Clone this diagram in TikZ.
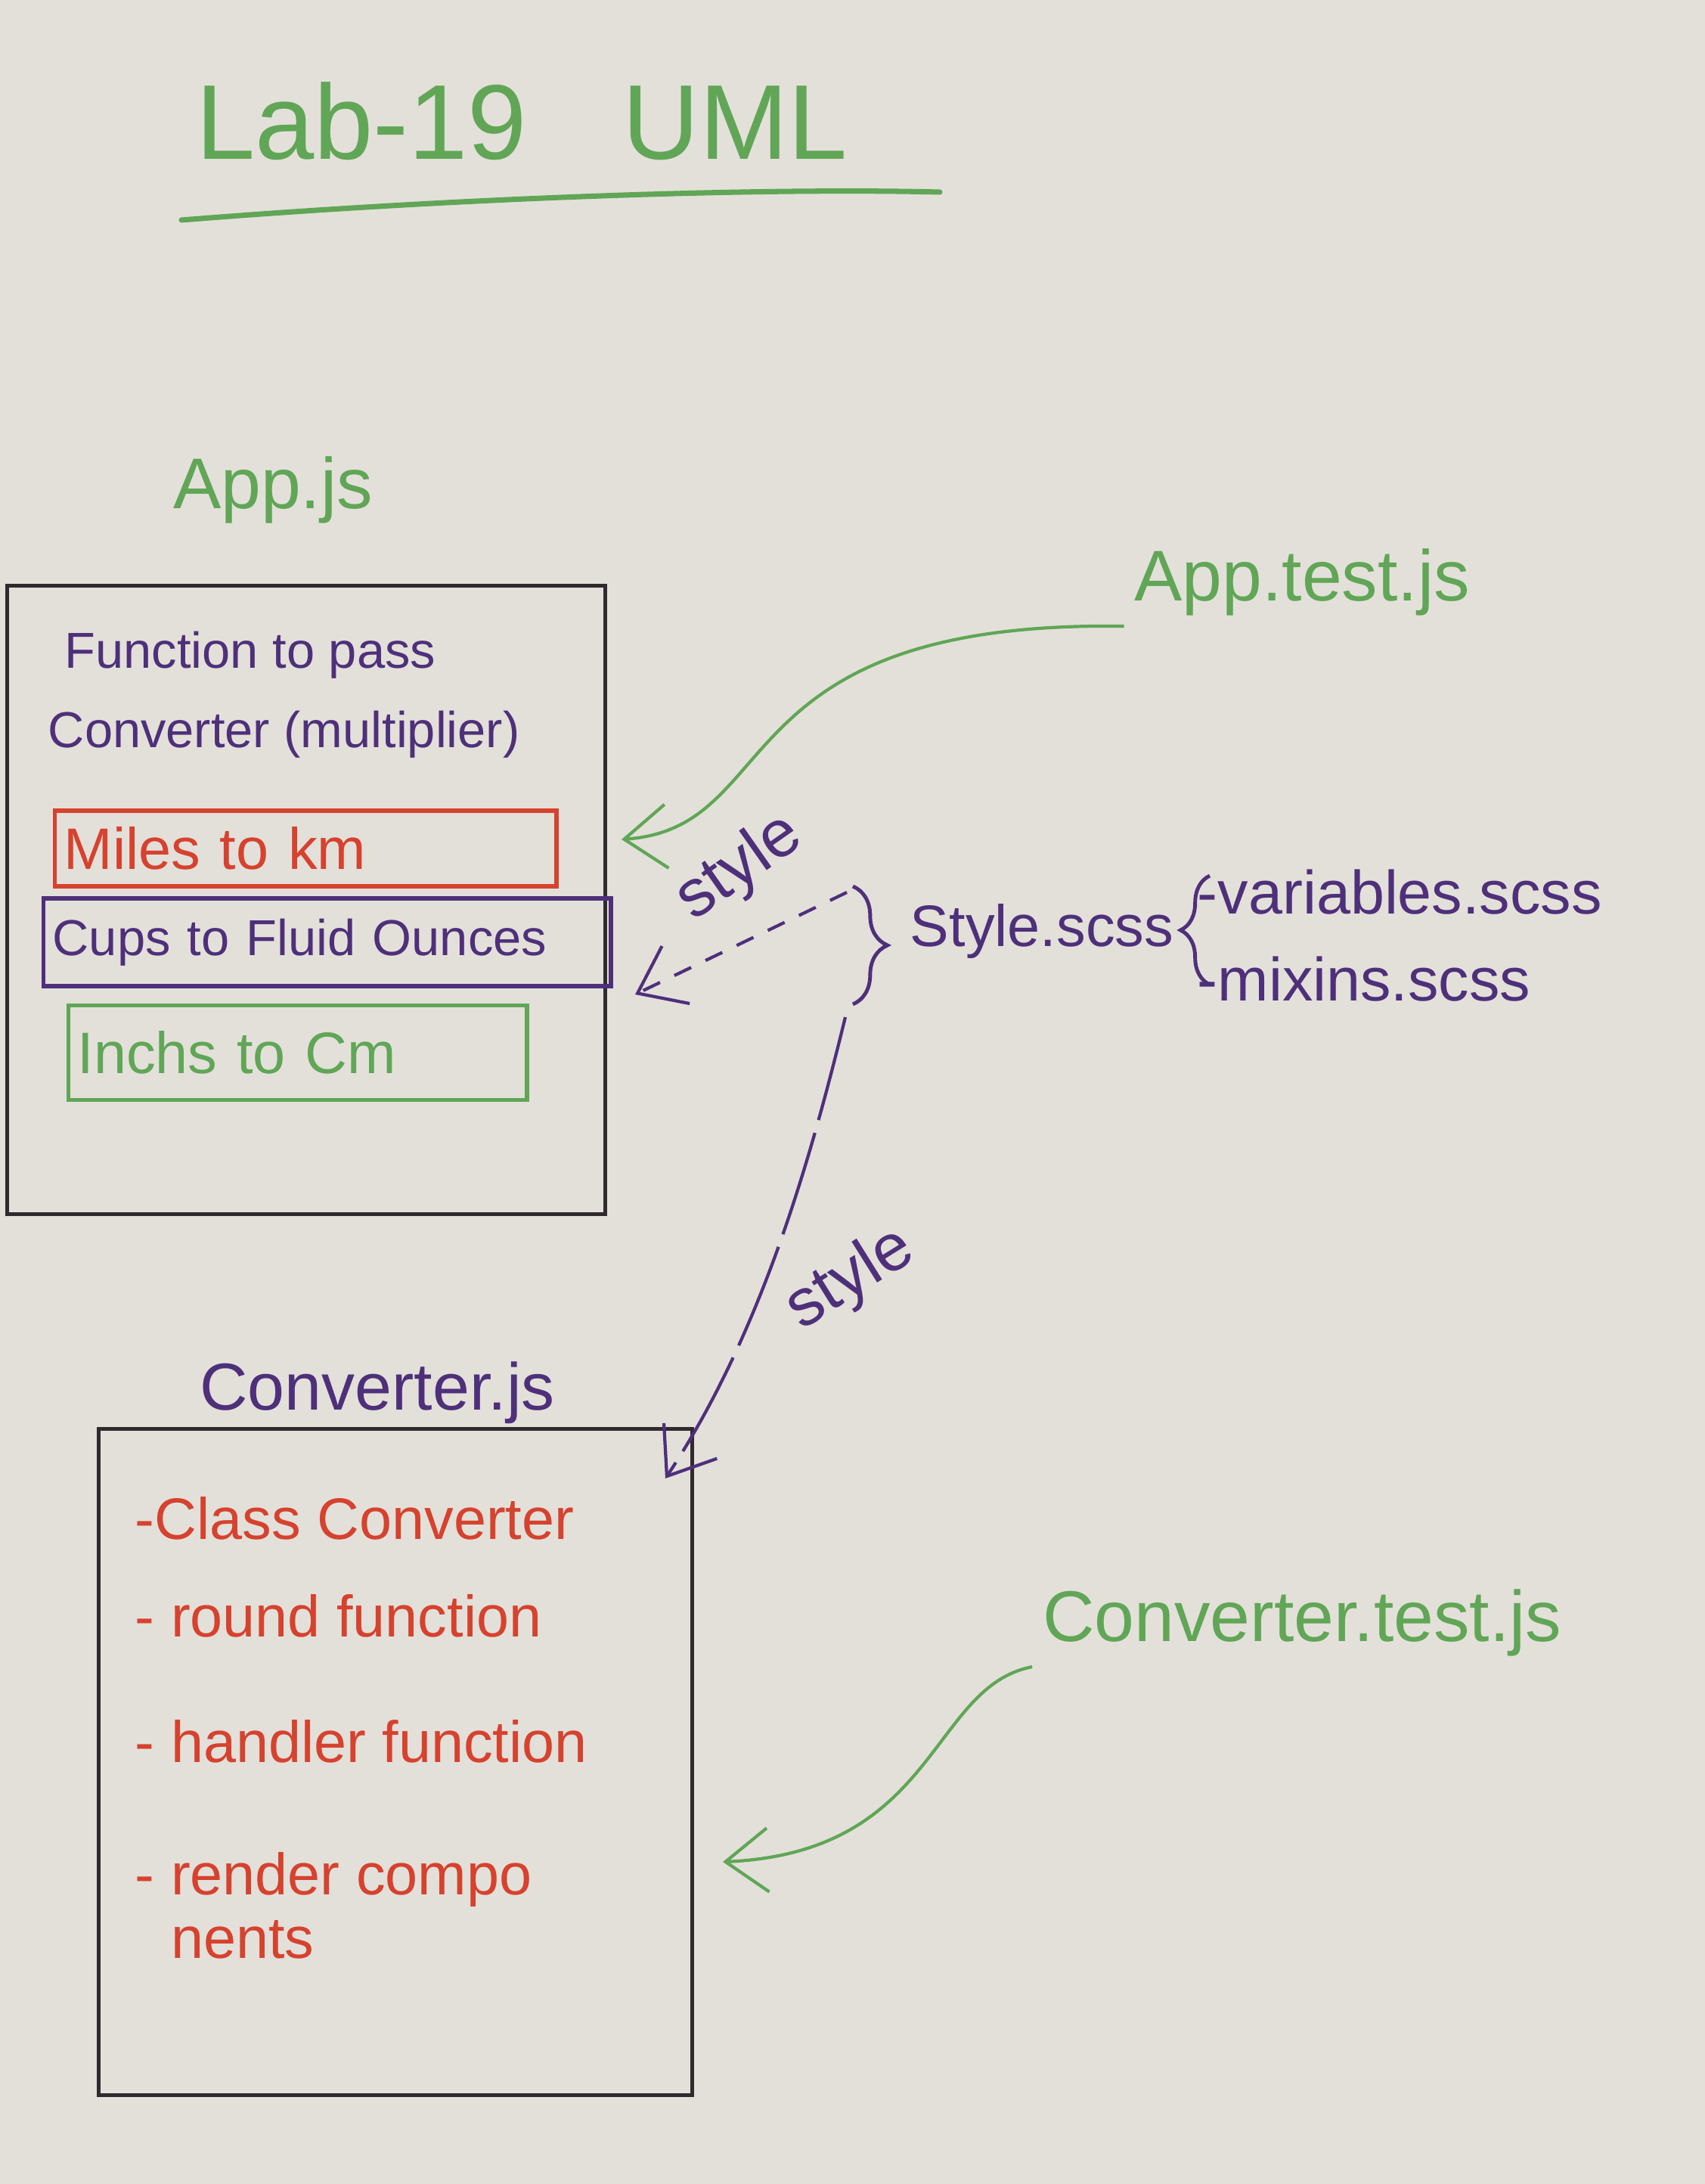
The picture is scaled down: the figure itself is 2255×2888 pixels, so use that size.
\documentclass[tikz,border=0pt]{standalone}
\usepackage{fontspec}
\setmainfont{Liberation Sans}
\usetikzlibrary{arrows.meta,decorations.pathreplacing}

\definecolor{board}{RGB}{227,224,218}
\definecolor{mkgreen}{RGB}{96,166,86}
\definecolor{mkpurple}{RGB}{78,48,122}
\definecolor{mkred}{RGB}{214,66,46}
\definecolor{mkblack}{RGB}{48,42,46}

\newcommand{\fsz}[1]{\fontsize{#1}{#1}\selectfont}
\newcommand{\wsp}[1]{\spaceskip=#1\relax}

\tikzset{
  mkbox/.style={draw=mkblack,line width=1.3pt},
  inbox/.style={draw,line width=1.5pt,align=left,anchor=west,inner xsep=0.12cm},
  arr/.style={-{Straight Barb[length=16pt,width=24pt]}},
  brc/.style={decorate,decoration={brace,amplitude=#1}}
}

\begin{document}
\begin{tikzpicture}[x=0.01cm,y=-0.01cm,line width=1.2pt]

  \fill[board] (0,0) rectangle (2255,2888);

  \begin{scope}[every node/.style={mkgreen}]
    \node[font={\fsz{40}\wsp{0.9em}}] (title) at (690,160) {Lab-19 UML};
    \node[font=\fsz{27}] (appjs) at (361,648) {App.js};
    \node[font=\fsz{27}] (apptest) at (1722,770) {App.test.js};
    \node[font=\fsz{27}] (convtest) at (1722,2146) {Converter.test.js};
  \end{scope}
  \draw[mkgreen,line width=2pt,line cap=round] (240,291) .. controls (600,262) and (1000,248) .. (1243,254);

  \node[mkbox,minimum width=7.9cm,minimum height=8.3cm] (app) at (405,1190) {};
  \node[mkbox,minimum width=7.85cm,minimum height=8.8cm] (conv) at (523,2330) {};

  \begin{scope}[every node/.style={mkpurple,font=\fsz{19},anchor=west}]
    \node (fn) at (72,866) {Function to pass};
    \node (cv) at (50,971) {Converter (multiplier)};
  \end{scope}

  \node[inbox,mkred,text width=6.39cm,minimum height=1cm,font={\fsz{22}\wsp{1em}}] (miles) at (70,1122) {Miles to km};
  \node[inbox,mkpurple,text width=7.26cm,minimum height=1.16cm,font={\fsz{19}\wsp{0.45em}}] (cups) at (55,1246) {Cups to Fluid Ounces};
  \node[inbox,mkgreen,text width=5.82cm,minimum height=1.25cm,font={\fsz{22}\wsp{1em}}] (inch) at (88,1392) {Inchs to Cm};

  \begin{scope}[every node/.style={mkpurple}]
    \node[font=\fsz{22}] (stylescss) at (1378,1231) {Style.scss};
    \node[font=\fsz{23},anchor=west] (vars) at (1570,1180) {-variables.scss};
    \node[font=\fsz{23},anchor=west] (mixins) at (1570,1295) {-mixins.scss};
    \node[font=\fsz{25},rotate=35,inner sep=1pt] (sty1) at (978,1148) {style};
    \node[font=\fsz{25},rotate=32,inner sep=1pt] (sty2) at (1125,1692) {style};
    \node[font=\fsz{25}] (convjs) at (499,1842) {Converter.js};
  \end{scope}

  \begin{scope}[every node/.style={mkred,font=\fsz{22},anchor=west}]
    \node (cls) at (165,2008) {-Class Converter};
    \node (rnd) at (165,2137) {- round function};
    \node (hnd) at (165,2303) {- handler function};
    \node[align=left,font=\fontsize{22}{24}\selectfont] (rnd) at (165,2520) {- render compo\\\phantom{- }nents};
  \end{scope}

  \coordinate (btop) at (1120,1180);
  \coordinate (bbot) at (1118,1345);
  \coordinate (apptip) at (822,1110);
  \coordinate (cupstip) at (840,1315);
  \coordinate (convtip) at (880,1955);
  \coordinate (ctesttip) at (956,2462);

  \draw[mkpurple,line width=1.4pt,brc=13pt] (1128,1172) -- (1128,1328);
  \draw[mkpurple,line width=1.4pt,brc=11pt] (1600,1302) -- (1600,1158);

  \begin{scope}[mkgreen]
    \draw[arr] (apptest.south west) .. controls (950,820) and (1040,1095) .. (apptip);
    \draw[arr] (convtest.south west) .. controls (1230,2230) and (1240,2450) .. (ctesttip);
  \end{scope}

  \begin{scope}[mkpurple]
    \draw[arr,dash pattern=on 7pt off 6pt] (btop) -- (cupstip);
    \draw[arr,dash pattern=on 40pt off 5pt] (bbot) .. controls (1075,1520) and (1010,1760) .. (convtip);
  \end{scope}

\end{tikzpicture}
\end{document}
